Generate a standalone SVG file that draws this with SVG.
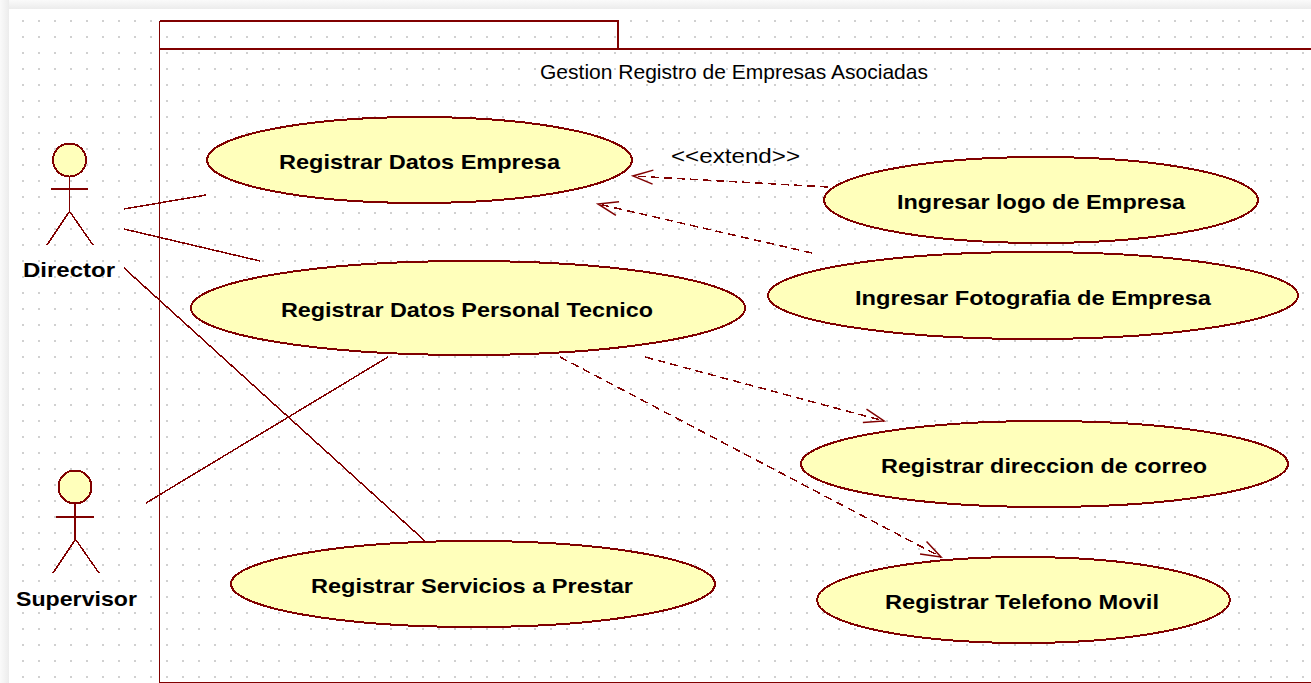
<svg xmlns="http://www.w3.org/2000/svg" width="1311" height="683" viewBox="0 0 1311 683">
<style>
.l{fill:none;stroke:#800000;stroke-width:1.5;shape-rendering:crispEdges}
.u{fill:#ffffbb;stroke:#800000;stroke-width:2;shape-rendering:crispEdges}
.d{stroke-dasharray:8 5;marker-end:url(#open)}
.t{font-family:"Liberation Sans",Arial,sans-serif;font-size:21px;fill:#000}
.b{font-weight:bold}
</style>
<defs>
<pattern id="grid" width="16" height="16" patternUnits="userSpaceOnUse" x="14" y="12">
<rect x="8" y="8" width="2" height="2" fill="#d0d0d0"/>
</pattern>
<linearGradient id="sv" x1="0" y1="0" x2="0" y2="1"><stop offset="0" stop-color="#fafafa"/><stop offset="1" stop-color="#ececec"/></linearGradient>
<linearGradient id="sh" x1="0" y1="0" x2="1" y2="0"><stop offset="0" stop-color="#fafafa"/><stop offset="1" stop-color="#ececec"/></linearGradient>
<marker id="open" markerUnits="userSpaceOnUse" markerWidth="24" markerHeight="20" refX="21" refY="10" orient="auto" overflow="visible">
<path d="M1,3 L21,10 L1,17" fill="none" stroke="#800000" stroke-width="1.5"/>
</marker>
</defs>
<rect id="page" width="1311" height="683" fill="#fff"/>
<rect width="1311" height="9" fill="url(#sv)"/>
<rect width="9" height="683" fill="url(#sh)"/>
<rect x="9" y="9" width="1302" height="674" fill="url(#grid)"/>
<g id="frame">
<rect x="159.500" y="48" width="1160" height="634" fill="#fff" class="l" style="stroke-width:1"/>
<rect x="159.500" y="21" width="458" height="27" fill="#fff" class="l" style="stroke-width:1"/>
<path d="M160,21H618V48M160,48.500H1311" class="l" style="stroke-width:2"/>
<text class="t" x="540" y="79" textLength="388" lengthAdjust="spacingAndGlyphs">Gestion Registro de Empresas Asociadas</text>
</g>
<g id="connectors">
<path class="l" d="M124,209L206,195"/>
<path class="l" d="M124,229L260,261"/>
<path class="l" d="M124,268L425,541"/>
<path class="l" d="M146,503L388,357"/>
<path class="l d" d="M828,187L633,176"/>
<path class="l d" d="M812,253L598,204"/>
<path class="l d" d="M645,357L884,421"/>
<path class="l d" d="M560,357L941,557"/>
<text class="t" x="671" y="163" textLength="129" lengthAdjust="spacingAndGlyphs">&lt;&lt;extend&gt;&gt;</text>
</g>
<g id="director">
<circle class="u" cx="69.500" cy="160" r="16.500"/>
<path class="l" d="M69.500,176V212M51,189H88M69,212L47,245M70,212L93,245"/>
<text class="t b" x="23" y="277" textLength="92" lengthAdjust="spacingAndGlyphs">Director</text>
</g>
<g id="supervisor">
<circle class="u" cx="75" cy="487" r="16.500"/>
<path class="l" d="M75,503V540M56,517H94M75,540L53,573M76,540L99,573"/>
<text class="t b" x="16" y="606" textLength="121" lengthAdjust="spacingAndGlyphs">Supervisor</text>
</g>
<g id="uc-datos-empresa">
<ellipse class="u" cx="419.500" cy="160" rx="212.500" ry="43"/>
<text class="t b" x="279" y="169" textLength="281" lengthAdjust="spacingAndGlyphs">Registrar Datos Empresa</text>
</g>
<g id="uc-personal-tecnico">
<ellipse class="u" cx="468" cy="308" rx="277" ry="47"/>
<text class="t b" x="281" y="317" textLength="372" lengthAdjust="spacingAndGlyphs">Registrar Datos Personal Tecnico</text>
</g>
<g id="uc-servicios">
<ellipse class="u" cx="473" cy="584" rx="242" ry="43"/>
<text class="t b" x="311" y="593" textLength="322" lengthAdjust="spacingAndGlyphs">Registrar Servicios a Prestar</text>
</g>
<g id="uc-logo">
<ellipse class="u" cx="1041" cy="200" rx="217" ry="43"/>
<text class="t b" x="897" y="209" textLength="288" lengthAdjust="spacingAndGlyphs">Ingresar logo de Empresa</text>
</g>
<g id="uc-fotografia">
<ellipse class="u" cx="1033" cy="295.500" rx="265" ry="43.500"/>
<text class="t b" x="855" y="305" textLength="356" lengthAdjust="spacingAndGlyphs">Ingresar Fotografia de Empresa</text>
</g>
<g id="uc-correo">
<ellipse class="u" cx="1044.500" cy="464" rx="243.500" ry="43"/>
<text class="t b" x="881" y="473" textLength="326" lengthAdjust="spacingAndGlyphs">Registrar direccion de correo</text>
</g>
<g id="uc-telefono">
<ellipse class="u" cx="1023.500" cy="600" rx="206.500" ry="43"/>
<text class="t b" x="885" y="609" textLength="274" lengthAdjust="spacingAndGlyphs">Registrar Telefono Movil</text>
</g>
</svg>
